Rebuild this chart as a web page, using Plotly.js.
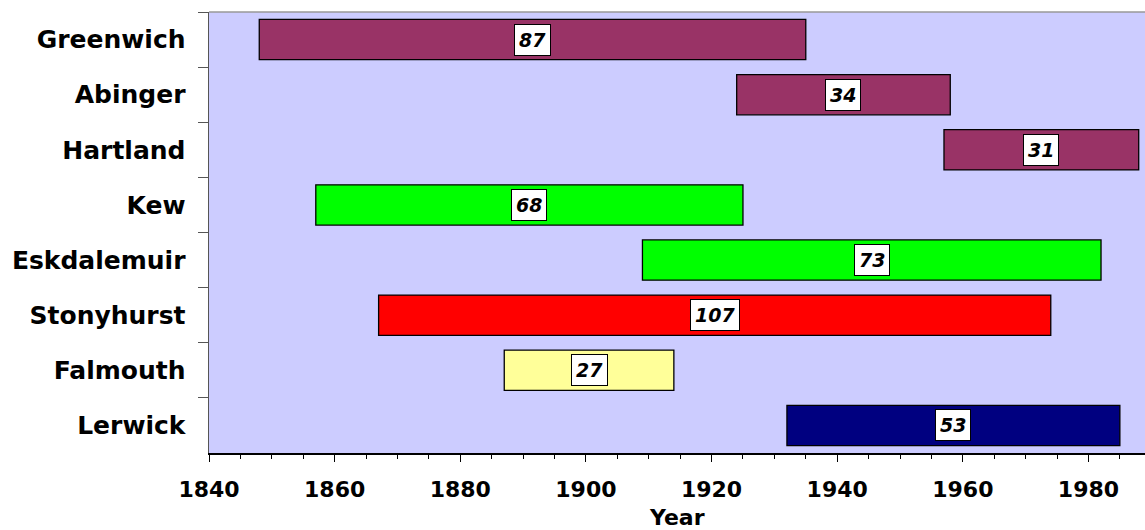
<!DOCTYPE html>
<html>
<head>
<meta charset="utf-8">
<script src="https://cdn.plot.ly/plotly-3.0.1.min.js"></script>
<style>
  html, body { margin: 0; padding: 0; background: #fff; }
  #chart { width: 1145px; height: 530px; }
</style>
</head>
<body>
<div id="chart"></div>
<script>
// observatories, top to bottom
const stations = ['Greenwich', 'Abinger', 'Hartland', 'Kew', 'Eskdalemuir', 'Stonyhurst', 'Falmouth', 'Lerwick'];
const startYears = [1848, 1924, 1957, 1857, 1909, 1867, 1887, 1932];
const endYears = [1935, 1958, 1988, 1925, 1982, 1974, 1914, 1985];
const barColors = ['#993366', '#993366', '#993366', '#00FF00', '#00FF00', '#FF0000', '#FFFF99', '#000080'];

const spans = startYears.map((s, i) => endYears[i] - s);

const trace = {
    type: 'bar',
    orientation: 'h',
    y: stations,
    x: spans,
    base: startYears,
    width: 0.73,
    marker: {
        color: barColors,
        line: { color: '#000000', width: 1.3 }
    },
    hoverinfo: 'skip'
};

// white boxed year counts in the middle of each bar
const labels = stations.map((name, i) => ({
    x: startYears[i] + spans[i] / 2,
    y: name,
    xref: 'x',
    yref: 'y',
    text: String(spans[i]),
    showarrow: false,
    font: { family: 'DejaVu Sans', size: 19, weight: 'bold', style: 'italic', color: '#000' },
    bgcolor: '#ffffff',
    bordercolor: '#000000',
    borderwidth: 1,
    borderpad: 4
}));

// x axis title, placed by hand so it sits low like the original
labels.push({
    x: 0.5, y: 0,
    xref: 'paper', yref: 'paper',
    xanchor: 'center', yanchor: 'top',
    yshift: -50,
    text: 'Year',
    showarrow: false,
    font: { family: 'DejaVu Sans', size: 22, weight: 'bold', color: '#000' }
});

const layout = {
    width: 1145,
    height: 530,
    margin: { l: 209, r: 0, t: 12, b: 77, pad: 0 },
    paper_bgcolor: '#ffffff',
    plot_bgcolor: '#CCCCFF',
    showlegend: false,
    xaxis: {
        range: [1840, 1989],
        dtick: 20,
        tick0: 1840,
        ticks: 'outside',
        ticklen: 7,
        tickwidth: 1,
        tickcolor: '#000',
        minor: { dtick: 5, ticks: 'outside', ticklen: 4, tickcolor: '#000' },
        showgrid: false,
        zeroline: false,
        showline: true,
        linecolor: '#000',
        linewidth: 1.5,
        ticklabelstandoff: 9,
        tickfont: { family: 'DejaVu Sans', size: 22, weight: 'bold', color: '#000' },
        automargin: false,
        fixedrange: true
    },
    yaxis: {
        autorange: 'reversed',
        type: 'category',
        tickson: 'boundaries',
        ticks: 'outside',
        ticklen: 10,
        tickcolor: '#555',
        showgrid: false,
        zeroline: false,
        showline: true,
        linecolor: '#555',
        linewidth: 1.5,
        ticklabelstandoff: 17,
        tickfont: { family: 'DejaVu Sans', size: 25, weight: 'bold', color: '#000' },
        automargin: false,
        fixedrange: true
    },
    shapes: [{
        type: 'line', xref: 'paper', yref: 'paper',
        x0: 0, x1: 1, y0: 1, y1: 1,
        line: { color: '#999999', width: 1.5 }
    }],
    annotations: labels
};

Plotly.newPlot('chart', [trace], layout, { displayModeBar: false, staticPlot: true });
</script>
</body>
</html>
